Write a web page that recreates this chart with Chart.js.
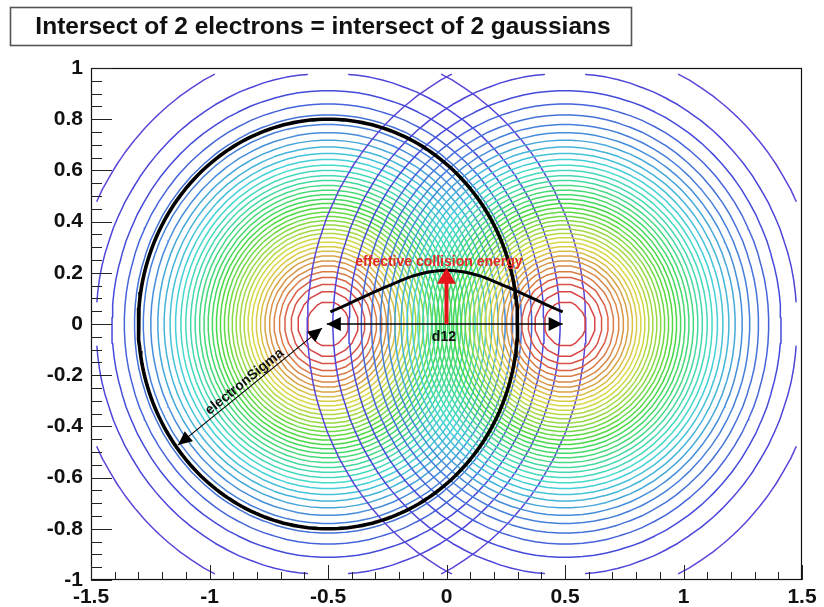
<!DOCTYPE html>
<html>
<head>
<meta charset="utf-8">
<script src="https://cdn.jsdelivr.net/npm/chart.js@4.4.1/dist/chart.umd.min.js"></script>
<style>
  html, body { margin: 0; padding: 0; background: #ffffff; }
  #wrap { width: 824px; height: 607px; position: relative; }
</style>
</head>
<body>
<div id="wrap"><canvas id="c" width="824" height="607"></canvas></div>
<script>
// ---- data -------------------------------------------------------------
const titleText = 'Intersect of 2 electrons = intersect of 2 gaussians';

const xTicks = [-1.5, -1, -0.5, 0, 0.5, 1, 1.5];
const yTicks = [-1, -0.8, -0.6, -0.4, -0.2, 0, 0.2, 0.4, 0.6, 0.8, 1];

// two electron clouds, each a 2D gaussian sampled on a binned grid
const gaussCentreX = [-0.5, 0.5];
const gaussCentreY = [0, 0];
const gaussSigma = 0.4;
const binWidth = 0.05;
const contourLevels = [0.025, 0.05, 0.075, 0.1, 0.125, 0.15, 0.175, 0.2, 0.225, 0.25,
  0.275, 0.3, 0.325, 0.35, 0.375, 0.4, 0.425, 0.45, 0.475, 0.5,
  0.525, 0.55, 0.575, 0.6, 0.625, 0.65, 0.675, 0.7, 0.725, 0.75,
  0.775, 0.8, 0.825, 0.85, 0.875, 0.9, 0.925, 0.95, 0.975];

// electronSigma circle around the left electron
const sigmaCircleX = -0.5;
const sigmaCircleY = 0;
const sigmaCircleR = 0.8;

// overlap profile ("effective collision energy")
const overlapX = [-0.49, -0.42, -0.35, -0.28, -0.21, -0.14, -0.07, 0, 0.07, 0.14, 0.21, 0.28, 0.35, 0.42, 0.49];
const overlapY = [0.047, 0.076, 0.106, 0.135, 0.163, 0.188, 0.204, 0.21, 0.204, 0.188, 0.163, 0.135, 0.106, 0.076, 0.047];

// annotation arrows (tail/tip pairs in axis units)
const d12ArrowX = [-0.505, 0.49];
const d12ArrowY = [0, 0];
const sigmaArrowX = [-0.525, -1.133];
const sigmaArrowY = [-0.016, -0.473];
const energyArrowX = [0, 0];
const energyArrowY = [0, 0.22];

// annotation labels
const labelText = ['effective collision energy', 'd12', 'electronSigma'];
const labelX = [-0.032, -0.011, -0.852];
const labelY = [0.242, -0.05, -0.226];

// ---- helpers ----------------------------------------------------------
const FONT = "'Liberation Sans', Arial, Helvetica, sans-serif";
const fmt = v => String(Math.round(v * 100) / 100);

// rainbow palette, 50 colours from blue-violet to red
function paletteColour(levelIndex, nLevels) {
  const idx = Math.min(49, Math.floor((levelIndex + 0.99) * 50 / nLevels));
  const hue = Math.max(0, 265 - (idx + 1) * 5.4);
  return `hsl(${hue.toFixed(1)}, 66%, 56%)`;
}

// sample one gaussian at bin centres over the frame range
function sampleGrid(cx, cy) {
  const x0 = xTicks[0], x1 = xTicks[xTicks.length - 1];
  const y0 = yTicks[0], y1 = yTicks[yTicks.length - 1];
  const nx = Math.round((x1 - x0) / binWidth), ny = Math.round((y1 - y0) / binWidth);
  const xs = [], ys = [], z = [];
  for (let i = 0; i < nx; i++) xs.push(x0 + binWidth * (i + 0.5));
  for (let j = 0; j < ny; j++) ys.push(y0 + binWidth * (j + 0.5));
  for (let j = 0; j < ny; j++) {
    const row = [];
    for (let i = 0; i < nx; i++) {
      const dx = xs[i] - cx, dy = ys[j] - cy;
      row.push(Math.exp(-(dx * dx + dy * dy) / (2 * gaussSigma * gaussSigma)));
    }
    z.push(row);
  }
  return { xs, ys, z };
}

// marching squares: list of points with gaps between segments
function contourPoints(grid, level) {
  const { xs, ys, z } = grid;
  const pts = [];
  const lerp = (xa, ya, va, xb, yb, vb) => {
    const t = (level - va) / (vb - va);
    return { x: xa + t * (xb - xa), y: ya + t * (yb - ya) };
  };
  for (let j = 0; j < ys.length - 1; j++) {
    for (let i = 0; i < xs.length - 1; i++) {
      const a = z[j][i], b = z[j][i + 1], c = z[j + 1][i + 1], d = z[j + 1][i];
      const xa = xs[i], xb = xs[i + 1], ya = ys[j], yb = ys[j + 1];
      const A = a > level, B = b > level, C = c > level, D = d > level;
      const e = {};
      if (A !== B) e.bottom = lerp(xa, ya, a, xb, ya, b);
      if (B !== C) e.right = lerp(xb, ya, b, xb, yb, c);
      if (C !== D) e.top = lerp(xb, yb, c, xa, yb, d);
      if (D !== A) e.left = lerp(xa, yb, d, xa, ya, a);
      const keys = Object.keys(e);
      let segs = [];
      if (keys.length === 2) segs = [[e[keys[0]], e[keys[1]]]];
      else if (keys.length === 4) {
        const centreAbove = (a + b + c + d) / 4 > level;
        if (A === centreAbove) segs = [[e.bottom, e.right], [e.top, e.left]];
        else segs = [[e.left, e.bottom], [e.right, e.top]];
      }
      for (const s of segs) { pts.push(s[0], s[1], { x: null, y: null }); }
    }
  }
  return pts;
}

// ---- datasets ---------------------------------------------------------
const datasets = [];

datasets.push({
  label: 'overlap',
  data: overlapX.map((x, i) => ({ x, y: overlapY[i] })),
  showLine: true, borderColor: '#000', borderWidth: 3,
  cubicInterpolationMode: 'monotone',
  pointRadius: 0, order: 1
});

const circlePts = [];
for (let k = 0; k <= 240; k++) {
  const t = (k / 240) * 2 * Math.PI;
  circlePts.push({ x: sigmaCircleX + sigmaCircleR * Math.cos(t), y: sigmaCircleY + sigmaCircleR * Math.sin(t) });
}
datasets.push({
  label: 'sigma', data: circlePts, showLine: true, borderColor: '#000',
  borderWidth: 3.6, pointRadius: 0, tension: 0, order: 2
});

gaussCentreX.forEach((cx, g) => {
  const grid = sampleGrid(cx, gaussCentreY[g]);
  contourLevels.forEach((lvl, m) => {
    datasets.push({
      label: `g${g}-l${m}`,
      data: contourPoints(grid, lvl),
      showLine: true, spanGaps: false,
      borderColor: paletteColour(m + 1, contourLevels.length + 1),
      borderWidth: 1.5, pointRadius: 0, tension: 0,
      borderCapStyle: 'round', borderJoinStyle: 'round',
      order: 20 - g * 10
    });
  });
});

// ---- overlay drawing: frame, inner ticks, arrows, labels, title -------
function arrowHead(ctx, tx, ty, fx, fy, len, half) {
  const ang = Math.atan2(ty - fy, tx - fx);
  const bx = tx - len * Math.cos(ang), by = ty - len * Math.sin(ang);
  const nx = -Math.sin(ang), ny = Math.cos(ang);
  ctx.beginPath();
  ctx.moveTo(tx, ty);
  ctx.lineTo(bx + half * nx, by + half * ny);
  ctx.lineTo(bx - half * nx, by - half * ny);
  ctx.closePath();
  ctx.fill();
}

const overlay = {
  id: 'overlay',
  afterDatasetsDraw(chart) {
    const { ctx, chartArea: a, scales: { x, y } } = chart;
    const px = v => x.getPixelForValue(v), py = v => y.getPixelForValue(v);
    ctx.save();

    // frame
    ctx.strokeStyle = '#111'; ctx.lineWidth = 1.2;
    ctx.strokeRect(Math.round(a.left) + 0.5, Math.round(a.top) + 0.5,
      Math.round(a.right - a.left) - 1, Math.round(a.bottom - a.top) - 1);

    // inner ticks
    ctx.lineWidth = 1; ctx.strokeStyle = '#222';
    ctx.beginPath();
    const yStep = (yTicks[1] - yTicks[0]) / 4;
    for (let k = 0; k <= (yTicks.length - 1) * 4; k++) {
      const v = yTicks[0] + k * yStep;
      const p = Math.round(py(v)) + 0.5;
      ctx.moveTo(a.left, p); ctx.lineTo(a.left + (k % 4 === 0 ? 21 : 11), p);
    }
    const xStep = (xTicks[1] - xTicks[0]) / 5;
    for (let k = 0; k <= (xTicks.length - 1) * 5; k++) {
      const v = xTicks[0] + k * xStep;
      const p = Math.round(px(v)) + 0.5;
      ctx.moveTo(p, a.bottom); ctx.lineTo(p, a.bottom - (k % 5 === 0 ? 15 : 8));
    }
    ctx.stroke();

    // d12 double arrow
    ctx.strokeStyle = '#000'; ctx.fillStyle = '#000'; ctx.lineWidth = 1.6;
    let x0 = px(d12ArrowX[0]), y0 = py(d12ArrowY[0]), x1 = px(d12ArrowX[1]), y1 = py(d12ArrowY[1]);
    ctx.beginPath(); ctx.moveTo(x0, y0); ctx.lineTo(x1, y1); ctx.stroke();
    arrowHead(ctx, x0, y0, x1, y1, 14, 7);
    arrowHead(ctx, x1, y1, x0, y0, 14, 7);

    // electronSigma double arrow
    ctx.lineWidth = 1.1;
    x0 = px(sigmaArrowX[0]); y0 = py(sigmaArrowY[0]); x1 = px(sigmaArrowX[1]); y1 = py(sigmaArrowY[1]);
    ctx.beginPath(); ctx.moveTo(x0, y0); ctx.lineTo(x1, y1); ctx.stroke();
    arrowHead(ctx, x0, y0, x1, y1, 14, 6.5);
    arrowHead(ctx, x1, y1, x0, y0, 14, 6.5);
    const sigmaAngle = Math.atan2(y0 - y1, x0 - x1);

    // red energy arrow
    ctx.strokeStyle = '#e4141b'; ctx.fillStyle = '#e4141b'; ctx.lineWidth = 4;
    x0 = px(energyArrowX[0]); y0 = py(energyArrowY[0]); x1 = px(energyArrowX[1]); y1 = py(energyArrowY[1]);
    ctx.beginPath(); ctx.moveTo(x0, y0); ctx.lineTo(x1, y1 + 10); ctx.stroke();
    arrowHead(ctx, x1, y1, x0, y0, 16, 9.5);

    // labels
    ctx.textAlign = 'center'; ctx.textBaseline = 'middle';
    ctx.font = `bold 14px ${FONT}`;
    ctx.fillStyle = '#e02a2a';
    ctx.fillText(labelText[0], px(labelX[0]), py(labelY[0]));
    ctx.fillStyle = '#111';
    ctx.fillText(labelText[1], px(labelX[1]), py(labelY[1]));
    ctx.save();
    ctx.translate(px(labelX[2]), py(labelY[2]));
    ctx.rotate(sigmaAngle);
    ctx.font = `bold 14px ${FONT}`;
    ctx.fillText(labelText[2], 0, 0);
    ctx.restore();

    ctx.restore();
  },
  afterDraw(chart) {
    const { ctx } = chart;
    ctx.save();
    ctx.strokeStyle = '#555'; ctx.lineWidth = 1.6;
    ctx.strokeRect(10.5, 7.5, 621, 38);
    ctx.fillStyle = '#111';
    ctx.font = `bold 24.5px ${FONT}`;
    ctx.textAlign = 'center'; ctx.textBaseline = 'middle';
    ctx.fillText(titleText, 323, 27);
    ctx.restore();
  }
};

// ---- chart ------------------------------------------------------------
const tickFont = { family: FONT, size: 21, weight: 'bold' };

new Chart(document.getElementById('c'), {
  type: 'scatter',
  data: { datasets },
  options: {
    responsive: false,
    animation: false,
    devicePixelRatio: 1,
    events: [],
    layout: { padding: { top: 68, right: 22, left: 0, bottom: 0 } },
    plugins: { legend: { display: false }, tooltip: { enabled: false }, title: { display: false } },
    elements: { point: { radius: 0 } },
    scales: {
      x: {
        type: 'linear', min: xTicks[0], max: xTicks[xTicks.length - 1],
        afterBuildTicks: s => { s.ticks = xTicks.map(v => ({ value: v })); },
        afterFit: s => { s.height = 27; },
        ticks: { callback: v => fmt(v), font: tickFont, color: '#111', padding: 5, maxRotation: 0, autoSkip: false },
        grid: { display: false, drawTicks: false },
        border: { display: false }
      },
      y: {
        type: 'linear', min: yTicks[0], max: yTicks[yTicks.length - 1],
        afterBuildTicks: s => { s.ticks = yTicks.map(v => ({ value: v })); },
        afterFit: s => { s.width = 91; },
        ticks: { callback: v => fmt(v), font: tickFont, color: '#111', padding: 8, autoSkip: false },
        grid: { display: false, drawTicks: false },
        border: { display: false }
      }
    }
  },
  plugins: [overlay]
});
</script>
</body>
</html>
